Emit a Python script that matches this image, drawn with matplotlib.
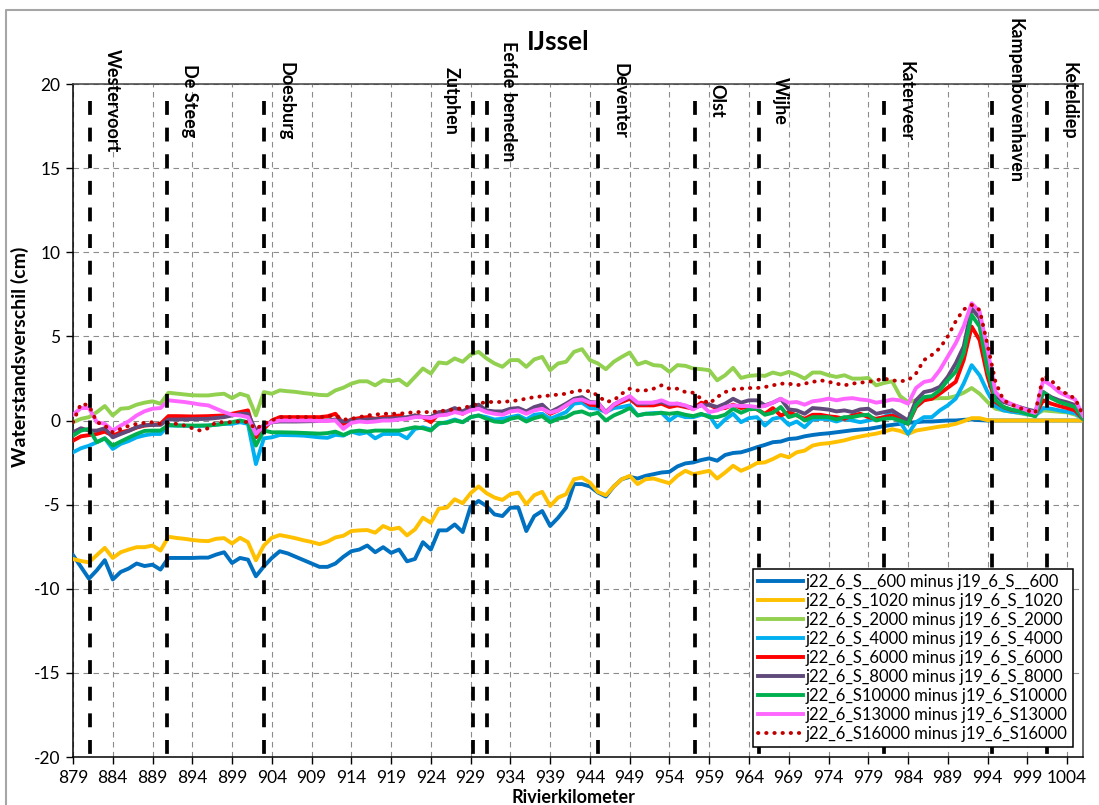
import numpy as np
import matplotlib
matplotlib.use("Agg")
import matplotlib.pyplot as plt
from matplotlib.lines import Line2D
from matplotlib import transforms

plt.rcParams['font.family'] = ['Lato', 'DejaVu Sans']
plt.rcParams['axes.unicode_minus'] = False

# river km of the data points
KM = np.arange(879, 1007)

S600 = [-8.0, -8.7, -9.4, -8.9, -8.3, -9.45, -9.0, -8.8, -8.5, -8.65,
        -8.57, -8.86, -8.17, -8.17, -8.17, -8.17, -8.15, -8.15, -7.97, -7.83,
        -8.47, -8.17, -8.27, -9.26, -8.67, -8.17, -7.77, -7.9, -8.1, -8.3,
        -8.5, -8.7, -8.7, -8.5, -8.1, -7.77, -7.67, -7.43, -7.83, -7.53,
        -7.87, -7.67, -8.37, -8.23, -7.23, -7.67, -6.53, -6.53, -6.18, -6.63,
        -5.12, -4.78, -5.08, -5.58, -5.68, -5.18, -5.18, -6.57, -5.68, -5.38,
        -6.27, -5.78, -5.18, -3.78, -3.78, -3.92, -4.28, -4.52, -3.92, -3.49,
        -3.35, -3.45, -3.29, -3.19, -3.09, -3.05, -2.73, -2.55, -2.49, -2.35,
        -2.25, -2.39, -2.05, -1.93, -1.89, -1.75, -1.59, -1.45, -1.29, -1.25,
        -1.1, -1.06, -0.94, -0.86, -0.8, -0.76, -0.7, -0.64, -0.58, -0.54,
        -0.5, -0.42, -0.33, -0.26, -0.2, -0.14, -0.1, -0.06, -0.06, -0.03,
        0.0, 0.0, 0.04, 0.06, 0.02, 0.0, 0.0, 0.0, 0.0, 0.0,
        0.0, 0.0, 0.0, 0.0, 0.0, 0.0, 0.0, 0.0]

S1020 = [-8.23, -8.35, -8.43, -8.0, -7.57, -8.17, -7.83, -7.67, -7.53, -7.53,
         -7.43, -7.73, -6.91, -6.98, -7.03, -7.1, -7.15, -7.17, -7.03, -6.99,
         -7.31, -6.97, -7.23, -8.31, -7.43, -6.97, -6.81, -6.9, -7.0, -7.12,
         -7.22, -7.35, -7.2, -6.95, -6.85, -6.57, -6.53, -6.51, -6.67, -6.27,
         -6.47, -6.37, -6.83, -6.47, -5.78, -6.08, -5.24, -5.18, -4.68, -4.92,
         -4.32, -3.92, -4.32, -4.58, -4.72, -4.38, -4.28, -4.98, -4.44, -4.24,
         -5.08, -4.58, -4.38, -3.49, -3.39, -3.69, -4.24, -4.44, -3.92, -3.49,
         -3.29, -3.78, -3.49, -3.45, -3.59, -3.73, -3.29, -2.99, -3.19, -3.09,
         -2.99, -3.45, -3.09, -2.69, -2.99, -2.79, -2.53, -2.49, -2.29, -2.05,
         -2.19, -1.89, -1.79, -1.49, -1.39, -1.35, -1.27, -1.18, -1.05, -0.95,
         -0.86, -0.78, -0.66, -0.52, -0.62, -0.8, -0.6, -0.52, -0.44, -0.36,
         -0.3, -0.2, -0.04, 0.14, 0.14, 0.02, 0.0, 0.0, 0.0, 0.0,
         0.0, 0.0, 0.0, 0.0, 0.0, 0.0, 0.0, 0.0]

S2000 = [-0.1, 0.1, 0.2, 0.5, 0.86, 0.3, 0.7, 0.74, 0.94, 1.06,
         1.14, 1.0, 1.65, 1.6, 1.55, 1.5, 1.49, 1.49, 1.55, 1.59,
         1.33, 1.59, 1.45, 0.3, 1.69, 1.59, 1.79, 1.74, 1.7, 1.63,
         1.58, 1.52, 1.5, 1.79, 1.95, 2.19, 2.33, 2.33, 2.09, 2.39,
         2.33, 2.43, 2.09, 2.59, 3.09, 2.79, 3.45, 3.39, 3.69, 3.49,
         3.92, 4.08, 3.69, 3.39, 3.19, 3.59, 3.59, 3.19, 3.63, 3.78,
         2.99, 3.39, 3.49, 4.08, 4.24, 3.59, 3.39, 3.05, 3.49, 3.78,
         4.04, 3.33, 3.49, 3.29, 3.25, 2.89, 3.29, 3.25, 3.09, 3.05,
         2.99, 2.39, 2.69, 3.13, 2.53, 2.65, 2.69, 2.65, 2.85, 2.73,
         2.89, 2.73, 2.49, 2.85, 2.85, 2.69, 2.59, 2.69, 2.49, 2.49,
         2.53, 2.09, 2.23, 2.33, 1.45, 1.1, 1.2, 1.25, 1.3, 1.33,
         1.33, 1.45, 1.65, 1.93, 1.59, 1.1, 0.7, 0.6, 0.52, 0.44,
         0.35, 0.35, 0.6, 0.56, 0.52, 0.48, 0.35, 0.1]

S4000 = [-1.89, -1.65, -1.5, -1.29, -1.06, -1.69, -1.39, -1.22, -1.0, -0.88,
         -0.8, -0.8, -0.3, -0.3, -0.31, -0.33, -0.32, -0.3, -0.25, -0.2,
         -0.2, -0.1, -0.2, -2.59, -1.06, -1.0, -0.86, -0.87, -0.88, -0.9,
         -0.95, -1.0, -1.03, -0.85, -0.9, -0.66, -0.8, -0.7, -1.06, -0.8,
         -0.8, -0.8, -1.06, -0.5, -0.4, -0.54, -0.2, -0.1, 0.06, -0.1,
         0.2, 0.3, 0.2, 0.06, 0.1, 0.2, 0.3, 0.06, 0.34, 0.4,
         0.1, 0.3, 0.5, 1.0, 1.06, 0.74, 0.7, 0.5, 0.74, 0.8,
         0.9, 0.3, 0.4, 0.44, 0.46, 0.0, 0.34, 0.2, 0.2, 0.34,
         0.3, -0.4, 0.06, 0.4, -0.1, 0.14, 0.2, -0.3, 0.1, 0.2,
         -0.26, -0.06, -0.4, 0.06, 0.1, 0.08, -0.06, 0.1, 0.0, -0.1,
         0.0, 0.1, 0.2, 0.6, -0.1, -0.8, -0.1, 0.2, 0.2, 0.6,
         0.9, 1.3, 2.2, 3.29, 2.69, 1.69, 0.85, 0.6, 0.52, 0.47,
         0.38, 0.28, 0.74, 0.7, 0.6, 0.52, 0.43, 0.1]

S6000 = [-1.2, -0.94, -0.87, -0.8, -0.66, -0.9, -0.7, -0.6, -0.42, -0.3,
         -0.26, -0.2, 0.26, 0.26, 0.25, 0.24, 0.25, 0.26, 0.28, 0.3,
         0.4, 0.5, 0.6, -1.0, -0.5, 0.0, 0.2, 0.2, 0.2, 0.2,
         0.2, 0.2, 0.25, 0.4, -0.2, 0.06, 0.14, 0.2, 0.1, 0.2,
         0.2, 0.3, 0.1, 0.3, 0.2, -0.1, 0.4, 0.4, 0.6, 0.4,
         0.7, 0.74, 0.54, 0.5, 0.4, 0.6, 0.7, 0.5, 0.7, 0.74,
         0.4, 0.6, 0.9, 1.2, 1.25, 0.94, 0.9, 0.5, 0.9, 1.1,
         1.29, 0.9, 0.9, 0.9, 1.0, 0.8, 0.9, 0.8, 0.7, 1.06,
         0.94, 0.7, 0.74, 0.94, 0.74, 0.8, 0.66, 0.4, 0.74, 0.3,
         0.5, 0.3, 0.1, 0.34, 0.34, 0.25, 0.2, 0.1, 0.3, 0.4,
         0.2, 0.1, 0.2, 0.3, 0.1, -0.2, 0.8, 1.2, 1.29, 1.6,
         1.95, 2.3, 3.6, 5.58, 4.78, 2.6, 1.1, 0.8, 0.62, 0.56,
         0.45, 0.35, 1.2, 1.0, 0.86, 0.74, 0.6, 0.1]

S8000 = [-0.7, -0.46, -0.6, -0.6, -0.46, -1.0, -0.8, -0.62, -0.4, -0.28,
         -0.26, -0.26, 0.06, 0.06, 0.07, 0.08, 0.09, 0.1, 0.15, 0.2,
         0.3, 0.4, 0.4, -0.6, -0.3, -0.1, -0.06, -0.06, -0.06, -0.05,
         -0.04, -0.03, 0.0, 0.06, -0.06, 0.0, 0.03, 0.06, 0.08, 0.1,
         0.12, 0.14, 0.2, 0.3, 0.2, 0.2, 0.5, 0.54, 0.74, 0.54,
         0.8, 0.94, 0.6, 0.54, 0.54, 0.7, 0.74, 0.54, 0.8, 0.94,
         0.5, 0.74, 1.0, 1.29, 1.39, 1.1, 1.06, 0.5, 0.94, 1.2,
         1.39, 1.0, 1.0, 1.06, 1.1, 0.94, 1.0, 0.86, 0.74, 0.9,
         0.94, 0.8, 1.0, 1.29, 1.06, 1.2, 1.2, 0.9, 1.06, 1.29,
         0.66, 0.6, 0.4, 0.74, 0.7, 0.65, 0.54, 0.6, 0.5, 0.66,
         0.7, 0.4, 0.5, 0.6, 0.3, 0.0, 1.2, 1.69, 1.79, 2.0,
         2.6, 3.4, 4.4, 6.67, 6.08, 3.6, 1.49, 1.1, 0.95, 0.8,
         0.66, 0.55, 1.69, 1.39, 1.2, 1.08, 0.92, 0.2]

S10000 = [-0.9, -0.6, -0.5, -1.29, -1.06, -1.49, -1.25, -1.02, -0.8, -0.62,
          -0.6, -0.6, -0.26, -0.3, -0.3, -0.3, -0.3, -0.3, -0.25, -0.2,
          -0.1, 0.0, -0.1, -1.49, -0.6, -0.7, -0.7, -0.71, -0.72, -0.74,
          -0.76, -0.78, -0.75, -0.66, -0.86, -0.66, -0.6, -0.66, -0.6, -0.6,
          -0.6, -0.6, -0.5, -0.4, -0.46, -0.6, -0.14, -0.14, 0.0, -0.1,
          0.2, 0.3, 0.1, -0.06, -0.1, 0.1, 0.2, -0.06, 0.14, 0.26,
          -0.1, 0.1, 0.2, 0.46, 0.54, 0.34, 0.46, 0.0, 0.3, 0.5,
          0.74, 0.3, 0.4, 0.4, 0.46, 0.4, 0.46, 0.34, 0.26, 0.4,
          0.2, 0.2, 0.34, 0.7, 0.46, 0.66, 0.7, 0.34, 0.46, 0.8,
          0.2, 0.34, 0.0, 0.2, 0.2, 0.2, 0.06, 0.2, 0.2, 0.3,
          0.34, 0.0, 0.1, 0.14, 0.0, -0.2, 0.9, 1.39, 1.45, 1.8,
          2.4, 2.9, 4.0, 6.27, 5.58, 3.0, 1.2, 0.8, 0.65, 0.55,
          0.4, 0.25, 1.69, 1.33, 1.1, 0.95, 0.8, 0.1]

S13000 = [0.34, 0.74, 0.74, -0.1, -0.2, -0.6, -0.3, -0.05, 0.3, 0.55,
          0.7, 0.74, 1.2, 1.15, 1.1, 1.03, 0.95, 0.9, 0.7, 0.5,
          0.34, 0.3, 0.2, -0.8, -0.3, -0.1, 0.0, 0.0, 0.0, 0.0,
          0.0, -0.03, -0.03, 0.0, -0.5, -0.14, -0.06, -0.1, -0.06, 0.0,
          0.0, 0.06, 0.1, 0.2, 0.2, 0.14, 0.3, 0.34, 0.5, 0.4,
          0.6, 0.7, 0.5, 0.4, 0.34, 0.54, 0.6, 0.4, 0.6, 0.7,
          0.46, 0.6, 0.9, 1.2, 1.25, 1.06, 1.06, 0.46, 0.94, 1.2,
          1.45, 1.06, 1.06, 1.06, 1.2, 1.0, 1.0, 0.9, 0.66, 0.94,
          0.5, 0.6, 0.8, 0.9, 0.86, 0.86, 0.8, 0.86, 1.06, 1.29,
          1.06, 1.1, 0.94, 1.14, 1.2, 1.3, 1.2, 1.29, 1.33, 1.25,
          1.2, 1.06, 1.14, 1.25, 1.2, 1.0, 1.93, 2.29, 2.39, 3.0,
          3.8, 4.6, 5.6, 6.97, 6.47, 4.2, 1.69, 1.2, 0.98, 0.78,
          0.6, 0.45, 2.39, 2.09, 1.69, 1.45, 1.25, 0.3]

S16000 = [-0.1, 1.0, 0.9, -0.1, -0.3, -0.7, -0.5, -0.32, -0.2, -0.14,
          -0.1, -0.2, -0.14, -0.2, -0.3, -0.46, -0.6, -0.46, -0.1, -0.1,
          -0.1, -0.06, -0.1, -0.5, -0.2, 0.0, 0.2, 0.2, 0.2, 0.2,
          0.2, 0.2, 0.25, 0.3, 0.05, 0.1, 0.2, 0.3, 0.35, 0.4,
          0.4, 0.4, 0.45, 0.5, 0.5, 0.5, 0.55, 0.6, 0.67, 0.74,
          0.86, 1.0, 1.1, 1.1, 1.1, 1.15, 1.2, 1.3, 1.39, 1.44,
          1.49, 1.54, 1.59, 1.73, 1.79, 1.73, 1.49, 1.1, 1.2, 1.59,
          1.89, 1.79, 1.79, 1.89, 2.09, 1.89, 1.89, 1.69, 1.65, 1.29,
          1.0, 1.39, 1.69, 1.85, 1.89, 1.93, 1.93, 1.99, 2.09, 2.19,
          2.19, 2.09, 2.19, 2.29, 2.39, 2.3, 2.19, 2.09, 2.19, 2.25,
          2.29, 2.39, 2.49, 2.39, 2.33, 2.39, 2.79, 3.59, 3.9, 4.3,
          5.0, 5.9, 6.6, 6.87, 6.57, 4.5, 2.29, 1.2, 0.95, 0.75,
          0.6, 0.45, 2.69, 2.39, 1.89, 1.55, 1.32, 0.3]

LABELS = ["j22_6_S__600 minus j19_6_S__600",
          "j22_6_S_1020 minus j19_6_S_1020",
          "j22_6_S_2000 minus j19_6_S_2000",
          "j22_6_S_4000 minus j19_6_S_4000",
          "j22_6_S_6000 minus j19_6_S_6000",
          "j22_6_S_8000 minus j19_6_S_8000",
          "j22_6_S10000 minus j19_6_S10000",
          "j22_6_S13000 minus j19_6_S13000",
          "j22_6_S16000 minus j19_6_S16000"]
COLORS = ['#0070C0', '#FFC000', '#92D050', '#00B0F0', '#FF0000',
          '#604A7B', '#00B050', '#FF66FF', '#C00000']

# measuring stations along the IJssel
STATIONS = ['Westervoort', 'De Steeg', 'Doesburg', 'Zutphen', 'Eefde beneden',
            'Deventer', 'Olst', 'Wijhe', 'Katerveer', 'Kampenbovenhaven', 'Keteldiep']
STATION_KM = [881.1, 890.8, 903.0, 929.35, 931.0, 945.0, 957.2, 965.2, 981.0, 994.6, 1001.5]
LABEL_SIDE = [1, 1, 1, -1, 1, 1, 1, 1, 1, 1, 1]

series = [S600, S1020, S2000, S4000, S6000, S8000, S10000, S13000, S16000]

fig = plt.figure(figsize=(10.99, 8.05), dpi=100)
ax = fig.add_axes([73 / 1099, 1 - 757 / 805, 1010 / 1099, 673 / 805])

for vals, lab, col in zip(series, LABELS, COLORS):
    if col == '#C00000':
        ax.plot(KM, vals, color=col, lw=2.8, linestyle=(0, (0.1, 2.0)),
                dash_capstyle='round', label=lab, zorder=3)
    else:
        ax.plot(KM, vals, color=col, lw=2.8, label=lab, zorder=3,
                solid_joinstyle='round')

for km, name, side in zip(STATION_KM, STATIONS, LABEL_SIDE):
    ax.plot([km, km], [19, -20], color='black', lw=2.7,
            linestyle=(0, (3.7, 3.4)), zorder=4, clip_on=False)
    tr = transforms.offset_copy(ax.transData, fig=fig, x=side * 16, y=0, units='points')
    ax.text(km, 19, name, transform=tr, rotation=-90, ha='center', va='center',
            fontsize=13, fontweight='bold', clip_on=False, zorder=5)

ax.set_xlim(879, 1006)
ax.set_ylim(-20, 20)
ax.set_xticks(np.arange(879, 1005, 5))
ax.set_yticks(np.arange(-20, 21, 5))
ax.grid(True, color='#8c8c8c', lw=0.8, linestyle=(0, (5, 4)), zorder=1)
ax.set_axisbelow(True)
ax.tick_params(axis='both', direction='out', length=5, width=1, labelsize=12.5, pad=4)

for s in ['left', 'bottom']:
    ax.spines[s].set_color('black')
for s in ['top', 'right']:
    ax.spines[s].set_color('#404040')
for s in ax.spines.values():
    s.set_linewidth(1.1)

leg = ax.legend(loc='lower right', bbox_to_anchor=(0.990, 0.015), borderaxespad=0,
                fontsize=12, frameon=True, fancybox=False, framealpha=1,
                edgecolor='black', handlelength=2.7, handletextpad=0.2,
                labelspacing=0.18, borderpad=0.3)
leg.get_frame().set_linewidth(1.1)

fig.text(558 / 1099, 1 - 42 / 805, 'IJssel', ha='center', va='center',
         fontsize=19, fontweight='bold')
fig.text(20 / 1099, 1 - 357 / 805, 'Waterstandsverschil (cm)', rotation=90,
         ha='center', va='center', fontsize=14, fontweight='bold')
fig.text(573 / 1099, 1 - 797 / 805, 'Rivierkilometer', ha='center', va='center',
         fontsize=13, fontweight='bold')

# grey outer frame of the original chart area
fig.add_artist(Line2D([6 / 1099, 6 / 1099, 1.0], [0.0, 1 - 10 / 805, 1 - 10 / 805],
                      transform=fig.transFigure, color='#a6a6a6', lw=1.5))

fig.savefig('out.png', dpi=100)
